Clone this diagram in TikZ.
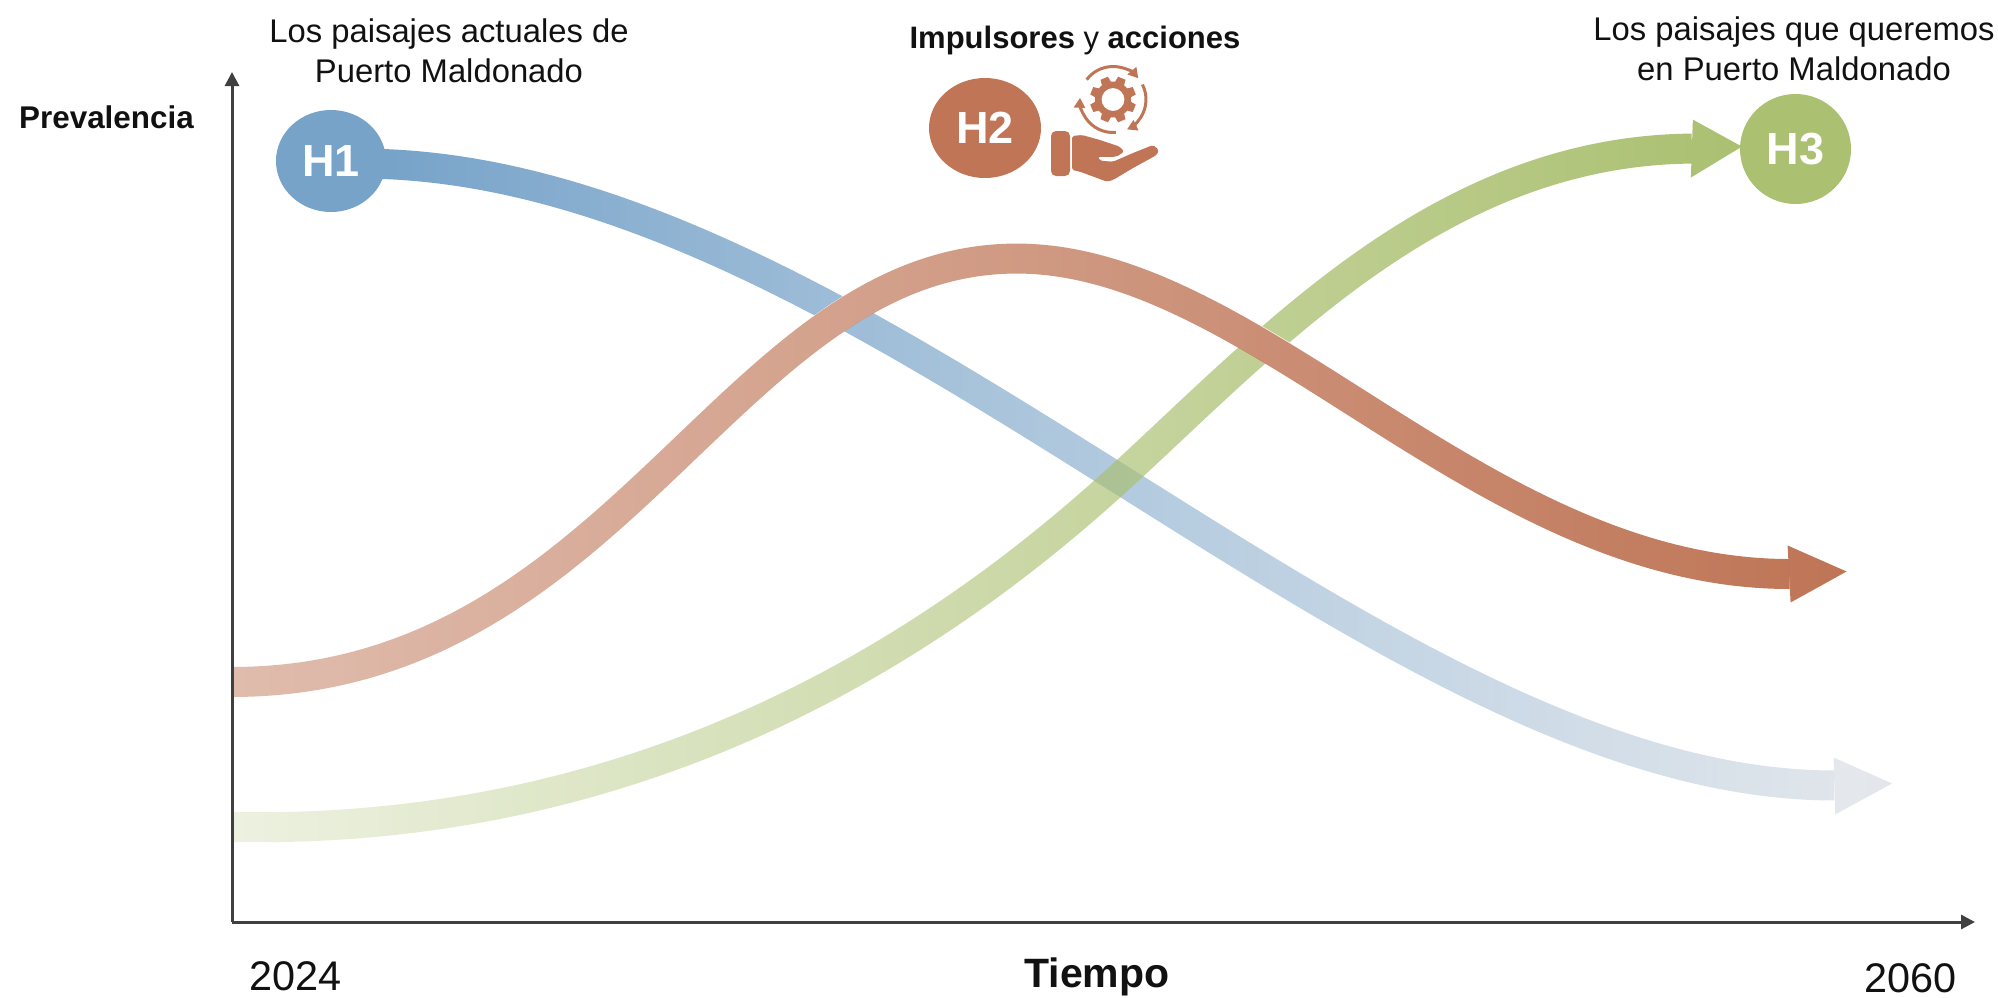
\documentclass[tikz,border=0pt]{standalone}
\usepackage{fontspec}
\setmainfont{Liberation Sans}
\usetikzlibrary{arrows.meta,fadings,shapes.geometric}
\definecolor{cblue}{RGB}{119,163,201}
\definecolor{cpale}{RGB}{227,231,236}
\definecolor{cred}{RGB}{191,117,86}
\definecolor{cgreen}{RGB}{171,192,113}
\definecolor{caxis}{RGB}{64,64,64}
\definecolor{ctext}{RGB}{17,17,17}
\tikzfading[name=fadeblue,left color=transparent!0,right color=transparent!100]
\tikzfading[name=fadepale,left color=transparent!100,right color=transparent!0]
\tikzfading[name=fadered,left color=transparent!52,right color=transparent!0]
\tikzfading[name=fadegreen,left color=transparent!78,right color=transparent!0]
% centre x (pt), xscale: 50bp of the fading covers the span of the band
\newcommand{\bandfade}[3]{\pgfsetfading{#1}{\pgftransformshift{\pgfpoint{#2pt}{-250pt}}\pgftransformxscale{#3}\pgftransformyscale{20}}}
\newcommand{\bluepath}{(b0) .. controls (865,163) and (1370,785) .. (b1)}
\newcommand{\redpath}{(r0) .. controls (620,681.5) and (730,258) .. (r1) .. controls (1257,258) and (1482,573.5) .. (r2)}
\tikzset{
  band/.style={line width=15pt},
  hub/.style={ellipse,inner sep=0pt,text=white,font=\fontsize{22.5}{24}\selectfont\bfseries},
  axisline/.style={draw=caxis,line width=1.5pt,-{Triangle[length=7pt,width=7pt]}},
  lab/.style={text=ctext,align=center,inner sep=0pt,anchor=base,font=\fontsize{16.4}{20}\selectfont},
  boldlab/.style={text=ctext,inner sep=0pt,anchor=base,font=\fontsize{15.7}{20}\selectfont\bfseries},
  yearlab/.style={text=ctext,inner sep=0pt,anchor=base,font=\fontsize{20.7}{24}\selectfont},
  ring/.style={draw=cred,line width=1.5pt,-{Triangle[length=5pt,width=5.5pt]}},
}
\begin{document}
\begin{tikzpicture}[x=0.5pt,y=-0.5pt]
\useasboundingbox (0,0) rectangle (1998,997);
% named curve points
\coordinate (b0) at (360,163);
\coordinate (b1) at (1834,785);
\coordinate (bt) at (1892,783);
\coordinate (r0) at (232,681.5);
\coordinate (r1) at (1017,258);
\coordinate (r2) at (1790,573.5);
\coordinate (rt) at (1847,571);
\coordinate (g0) at (232,826.5);
\coordinate (g1) at (1120,477);
\coordinate (g2) at (1692,148);
\coordinate (gt) at (1742,146);
% blue band: pale layer below, blue layer above
\begin{scope}
\bandfade{fadepale}{569.5}{15}
\draw[band,draw=cpale] \bluepath;
\fill[cpale] (1833.5,757) -- (bt) -- (1835,814) -- cycle;
\end{scope}
\begin{scope}
\bandfade{fadeblue}{569.5}{15}
\draw[band,draw=cblue] \bluepath;
\end{scope}
% green band
\begin{scope}
\bandfade{fadegreen}{493.5}{14.9}
\draw[band,draw=cgreen] (g0) .. controls (650,835) and (940,642) .. (g1)
  .. controls (1270,340) and (1440,150) .. (g2);
\fill[cgreen] (1693,119) -- (gt) -- (1691,177) -- cycle;
\end{scope}
% red band, opaque over the others
\draw[band,draw=white] \redpath;
\begin{scope}
\bandfade{fadered}{519.75}{16.1}
\draw[band,draw=cred] \redpath;
\fill[cred] (1788,545) -- (rt) -- (1791,602) -- cycle;
\end{scope}
% axes
\coordinate (O) at (232,922);
\coordinate (ytip) at (232,72);
\coordinate (xtip) at (1975,922);
\draw[axisline] (O) -- (ytip);
\draw[axisline] (O) -- (xtip);
% hubs
\node[hub,fill=cblue,minimum width=55pt,minimum height=51pt] (H1) at (331,161) {H1};
\node[hub,fill=cred,minimum width=56pt,minimum height=50pt] (H2) at (985,128) {H2};
\node[hub,fill=cgreen,minimum width=55.5pt,minimum height=55pt] (H3) at (1795.5,149) {H3};
% labels
\node[lab] (t1) at (449,82) {Los paisajes actuales de\\Puerto Maldonado};
\node[lab] (t3) at (1794,80) {Los paisajes que queremos\\en Puerto Maldonado};
\node[boldlab] (prev) at (106.5,128) {Prevalencia};
\node[boldlab,font=\fontsize{15.5}{20}\selectfont\bfseries] (imp) at (1075,48) {Impulsores {\mdseries y} acciones};
\node[boldlab,font=\fontsize{20.5}{24}\selectfont\bfseries] (tiempo) at (1097,987) {Tiempo};
\node[yearlab] (y1) at (295.5,990) {2024};
\node[yearlab] (y2) at (1910.5,992) {2060};
% hand icon
\fill[cred,rounded corners=2.5pt] (1051,131) rectangle (1070,176);
\fill[cred,rounded corners=1pt] (1072,136) -- (1082,135) -- (1100,140) -- (1120,146.7)
  -- (1124,151.7) -- (1116.7,156.7) -- (1098,157) -- (1100,160.7) -- (1113,161.7)
  -- (1133,153) -- (1153,145) -- (1159,150) -- (1156.7,155) -- (1133,168)
  -- (1113,180) -- (1107,181.7) -- (1097,178) -- (1080,171.7) -- (1072,170) -- cycle;
% gear icon
\coordinate (gc) at (1113,99.5);
\fill[cred,even odd rule] (gc) circle[radius=18] (gc) circle[radius=11.5];
\foreach \a in {0,45,...,315}
  \fill[cred,shift={(gc)},rotate=\a+22.5] (16,-5) -- (23,-4) -- (23,4) -- (16,5) -- cycle;
\draw[ring,shift={(gc)}] (-143:33) arc[start angle=-143,end angle=-40,radius=33];
\draw[ring,shift={(gc)}] (-27:33) arc[start angle=-27,end angle=65,radius=33];
\draw[ring,shift={(gc)}] (85:33) arc[start angle=85,end angle=183,radius=33];
\end{tikzpicture}
\end{document}
